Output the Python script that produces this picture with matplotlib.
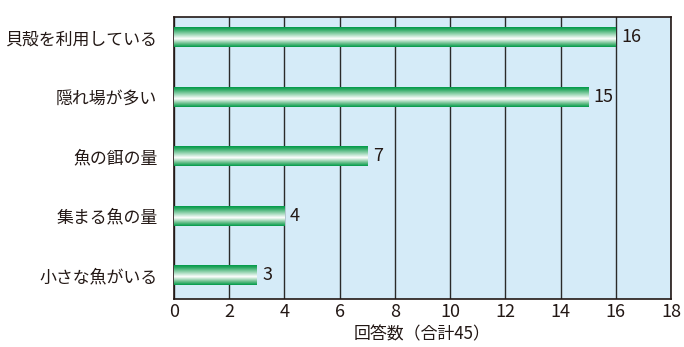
import matplotlib.pyplot as plt
import numpy as np
from matplotlib.colors import LinearSegmentedColormap

plt.rcParams['font.family'] = ['Noto Sans CJK JP', 'DejaVu Sans']

# データ
categories = ["小さな魚がいる", "集まる魚の量", "魚の餌の量", "隠れ場が多い", "貝殻を利用している"]
values = [3, 4, 7, 15, 16]
xlabel = "回答数（合計45）"

fig = plt.figure(figsize=(6.84, 3.47), dpi=100)
ax = fig.add_axes([0.2544, 0.1383, 0.7266, 0.8127])
ax.set_facecolor("#d5ebf8")

# 緑→白→緑のグラデーション
cmap = LinearSegmentedColormap.from_list(
    "tube", [(0.0, "#009a48"), (0.12, "#2aa862"), (0.58, "#ffffff"), (0.82, "#6cc08e"), (1.0, "#009a48")])
grad = np.linspace(0, 1, 256).reshape(-1, 1)

h = 0.33
y = np.arange(len(categories))
for yi, v in zip(y, values):
    ax.imshow(grad, cmap=cmap, aspect="auto", origin="upper",
              extent=(0, v, yi - h / 2, yi + h / 2), zorder=3)
    ax.text(v + 0.2, yi, str(v), va="center", ha="left", fontsize=13,
            color="#231815", zorder=4)

ax.set_xlim(0, 18)
ax.set_ylim(-0.40, 4.34)
ax.set_xticks(range(0, 19, 2))
ax.set_yticks(y)
ax.set_yticklabels(categories, fontsize=12.2)
ax.tick_params(axis="y", length=0, colors="#231815", pad=12)
ax.tick_params(axis="x", length=0, labelsize=13, colors="#231815", pad=3)
ax.grid(axis="x", color="#2a2a2a", linewidth=1.0, zorder=1)
ax.set_axisbelow(True)
for s in ax.spines.values():
    s.set_color("#231815")
    s.set_linewidth(1.2)
ax.set_xlabel(xlabel, fontsize=12.2, color="#231815", labelpad=3)

fig.savefig("out.png", dpi=100)
